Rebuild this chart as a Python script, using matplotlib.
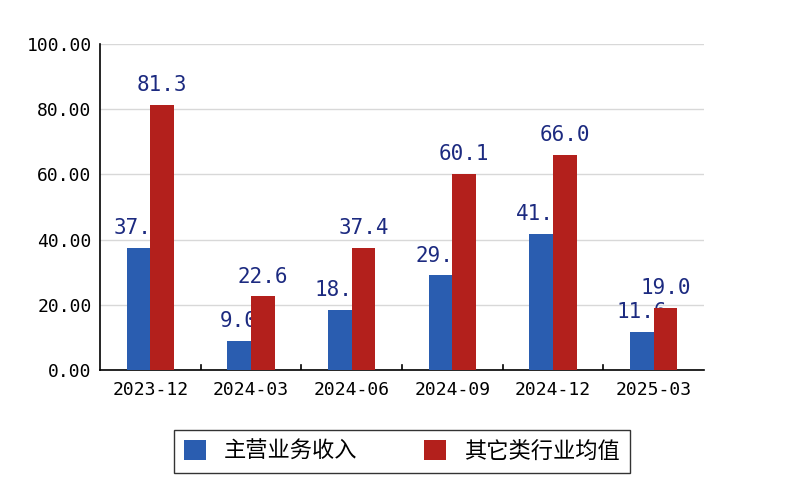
import numpy as np
import matplotlib.pyplot as plt

plt.rcParams['font.family'] = ['Noto Sans CJK SC', 'DejaVu Sans']

periods = ['2023-12', '2024-03', '2024-06', '2024-09', '2024-12', '2025-03']
main_income = [37.4, 9.0, 18.4, 29.0, 41.7, 11.6]
industry_avg = [81.3, 22.6, 37.4, 60.1, 66.0, 19.0]
blue_label = ['37.4', '9.0', '18.4', '29.0', '41.7', '11.6']

fig = plt.figure(figsize=(8, 5), dpi=100)
ax = fig.add_axes([0.125, 0.26, 0.755, 0.652])

x = np.arange(len(periods))
w = 0.235
ax.bar(x - w / 2, main_income, w, color='#2a5db0', zorder=3, label='主营业务收入')
ax.bar(x + w / 2, industry_avg, w, color='#b3201c', zorder=5, label='其它类行业均值')

# blue labels sit under the red bars, so they get partly hidden as in the original
for xi, v, s in zip(x, main_income, blue_label):
    ax.text(xi - w / 2, v + 3, s, ha='center', va='bottom', fontsize=15,
            family='DejaVu Sans Mono', color='#1c2a80', zorder=4)
for xi, v in zip(x, industry_avg):
    ax.text(xi + w / 2, v + 3, f'{v:.1f}', ha='center', va='bottom', fontsize=15,
            family='DejaVu Sans Mono', color='#1c2a80', zorder=6)

ax.set_xlim(-0.5, len(periods) - 0.5)
ax.set_ylim(0, 100)
ax.set_yticks(np.arange(0, 101, 20))
ax.set_yticklabels([f'{t:.2f}' for t in np.arange(0, 101, 20)],
                   family='DejaVu Sans Mono', fontsize=13)
ax.set_xticks(x)
ax.set_xticklabels(periods, family='DejaVu Sans Mono', fontsize=13)
ax.tick_params(axis='x', length=0, pad=8)
ax.tick_params(axis='y', length=0, pad=6)
for b in x[:-1] + 0.5:
    ax.plot([b, b], [0, 1.5], color='black', lw=1.2, zorder=7)
ax.grid(axis='y', color='#d8d8d8', lw=1, zorder=0)
for s in ['top', 'right']:
    ax.spines[s].set_visible(False)
ax.spines['left'].set_linewidth(1.2)
ax.spines['bottom'].set_linewidth(1.2)

ax.legend(loc='upper center', bbox_to_anchor=(0.5, -0.15), ncol=2, fontsize=16,
          frameon=True, fancybox=False, edgecolor='black', handlelength=1,
          handleheight=1, columnspacing=3.0, borderpad=0.45)

fig.savefig('out.png')
